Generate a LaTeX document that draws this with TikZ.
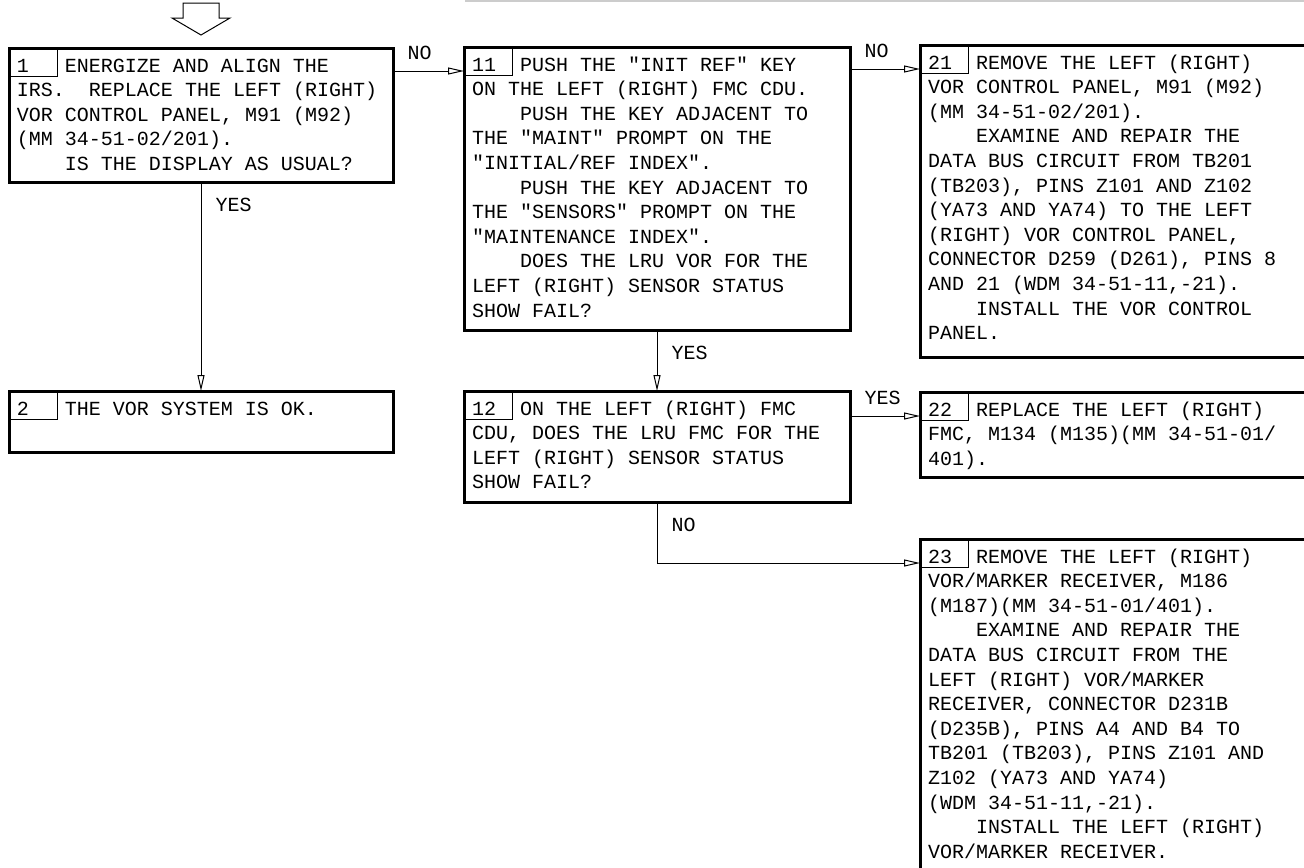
\documentclass[tikz,border=0pt]{standalone}
\usepackage{fontspec}
\setmonofont{Liberation Mono}
\usetikzlibrary{arrows.meta}
\frenchspacing
\newcommand{\indt}{\hspace*{24pt}}
\tikzset{
  stepbox/.style={draw, line width=1.5pt, anchor=north west, align=left,
    inner xsep=4pt, inner ysep=0pt, outer sep=0pt, text height=12pt,
    execute at begin node={\spaceskip=6pt\relax\xspaceskip=6pt\relax}},
  numbox/.style={draw, line width=0.5pt, anchor=north west, align=left,
    text width=16pt, inner xsep=4pt, inner ysep=0pt, outer sep=0pt,
    text height=12pt, text depth=2pt},
  flow/.style={line width=0.5pt, -{Triangle[open,length=8pt,width=3.5pt]}},
  lbl/.style={inner sep=0pt}
}
\begin{document}
\begin{tikzpicture}[x=0.5pt,y=-0.5pt,font=\fontsize{10pt}{12.3pt}\ttfamily\selectfont]
  \useasboundingbox (0,0) rectangle (1304,867);
  \draw[black!20, line width=1pt] (465,0.5) -- (1304,0.5);
  \draw[line width=0.5pt] (183,3) -- (219,3) -- (219,18) -- (230,18)
    -- (201,35) -- (172,18) -- (183,18) -- cycle;

  \node[stepbox, text width=184pt, text depth=55pt] (s1) at (9,48)
    {\indt ENERGIZE AND ALIGN THE\\
     IRS.\ \ REPLACE THE LEFT (RIGHT)\\
     VOR CONTROL PANEL, M91 (M92)\\
     (MM 34-51-02/201).\\
     \indt IS THE DISPLAY AS USUAL?};
  \node[numbox] (s1n) at (s1.north west) {1};

  \node[stepbox, text width=184pt, text depth=18.5pt] (s2) at (9,391)
    {\indt THE VOR SYSTEM IS OK.};
  \node[numbox] (s2n) at (s2.north west) {2};

  \node[stepbox, text width=185pt, text depth=129.5pt] (s11) at (464,47)
    {\indt PUSH THE "INIT REF" KEY\\
     ON THE LEFT (RIGHT) FMC CDU.\\
     \indt PUSH THE KEY ADJACENT TO\\
     THE "MAINT" PROMPT ON THE\\
     "INITIAL/REF INDEX".\\
     \indt PUSH THE KEY ADJACENT TO\\
     THE "SENSORS" PROMPT ON THE\\
     "MAINTENANCE INDEX".\\
     \indt DOES THE LRU VOR FOR THE\\
     LEFT (RIGHT) SENSOR STATUS\\
     SHOW FAIL?};
  \node[numbox] (s11n) at (s11.north west) {11};

  \node[stepbox, text width=185pt, text depth=43.5pt] (s12) at (464,391)
    {\indt ON THE LEFT (RIGHT) FMC\\
     CDU, DOES THE LRU FMC FOR THE\\
     LEFT (RIGHT) SENSOR STATUS\\
     SHOW FAIL?};
  \node[numbox] (s12n) at (s12.north west) {12};

  \node[stepbox, text width=192pt, text depth=144pt] (s21) at (920,45)
    {\indt REMOVE THE LEFT (RIGHT)\\
     VOR CONTROL PANEL, M91 (M92)\\
     (MM 34-51-02/201).\\
     \indt EXAMINE AND REPAIR THE\\
     DATA BUS CIRCUIT FROM TB201\\
     (TB203), PINS Z101 AND Z102\\
     (YA73 AND YA74) TO THE LEFT\\
     (RIGHT) VOR CONTROL PANEL,\\
     CONNECTOR D259 (D261), PINS 8\\
     AND 21 (WDM 34-51-11,-21).\\
     \indt INSTALL THE VOR CONTROL\\
     PANEL.};
  \node[numbox] (s21n) at (s21.north west) {21};

  \node[stepbox, text width=192pt, text depth=30.5pt] (s22) at (920,392)
    {\indt REPLACE THE LEFT (RIGHT)\\
     FMC, M134 (M135)(MM 34-51-01/\\
     401).};
  \node[numbox] (s22n) at (s22.north west) {22};

  \node[stepbox, text width=192pt, text depth=158.5pt] (s23) at (920,539)
    {\indt REMOVE THE LEFT (RIGHT)\\
     VOR/MARKER RECEIVER, M186\\
     (M187)(MM 34-51-01/401).\\
     \indt EXAMINE AND REPAIR THE\\
     DATA BUS CIRCUIT FROM THE\\
     LEFT (RIGHT) VOR/MARKER\\
     RECEIVER, CONNECTOR D231B\\
     (D235B), PINS A4 AND B4 TO\\
     TB201 (TB203), PINS Z101 AND\\
     Z102 (YA73 AND YA74)\\
     (WDM 34-51-11,-21).\\
     \indt INSTALL THE LEFT (RIGHT)\\
     VOR/MARKER RECEIVER.};
  \node[numbox] (s23n) at (s23.north west) {23};

  \coordinate (in11) at ([yshift=-12pt]s11.north west);
  \coordinate (in21) at ([yshift=-12pt]s21.north west);
  \coordinate (in22) at ([yshift=-12pt]s22.north west);
  \coordinate (in23) at ([yshift=-12pt]s23.north west);

  \draw[flow] (s1.east |- in11)
    node[lbl, anchor=south west, xshift=7pt, yshift=5.5pt] (no1) {NO} -- (in11);
  \draw[flow] (s1.south)
    node[lbl, anchor=north west, xshift=7pt, yshift=-8pt] (yes1) {YES} -- (s2.north);
  \draw[flow] (s11.east |- in21)
    node[lbl, anchor=south west, xshift=7pt, yshift=5.5pt] (no11) {NO} -- (in21);
  \draw[flow] (s11.south)
    node[lbl, anchor=north west, xshift=7pt, yshift=-8pt] (yes11) {YES} -- (s12.north);
  \draw[flow] (s12.east |- in22)
    node[lbl, anchor=south west, xshift=7pt, yshift=5.5pt] (yes12) {YES} -- (in22);
  \draw[flow] (s12.south)
    node[lbl, anchor=north west, xshift=7pt, yshift=-8pt] (no12) {NO} |- (in23);
\end{tikzpicture}
\end{document}
